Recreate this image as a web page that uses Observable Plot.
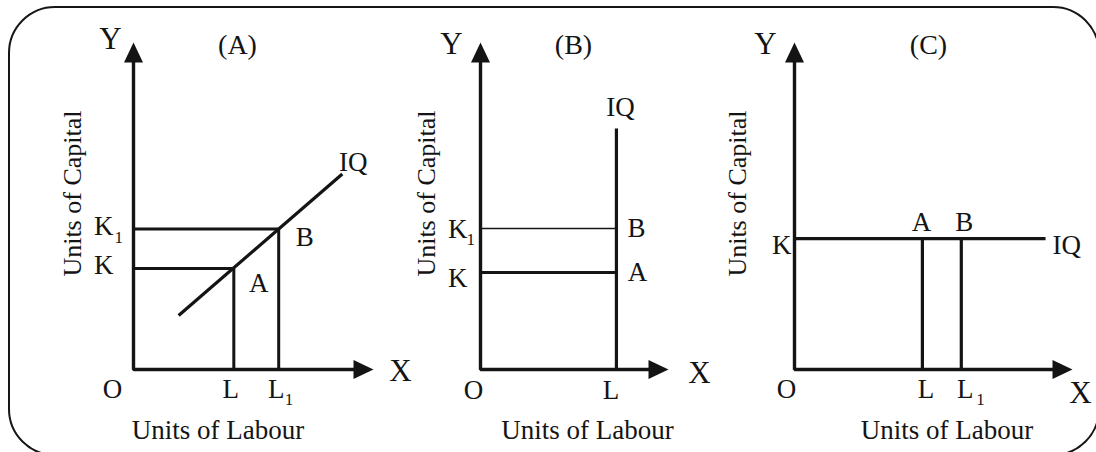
<!DOCTYPE html>
<html>
<head>
<meta charset="utf-8">
<script src="https://cdn.jsdelivr.net/npm/d3@7"></script>
<script src="https://cdn.jsdelivr.net/npm/@observablehq/plot@0.6"></script>
<style>
  html, body { margin: 0; padding: 0; background: #fff; overflow: hidden; }
  #wrap { position: relative; width: 1096px; height: 452px; overflow: hidden; }
  #frame { position: absolute; left: 8px; top: 6px; width: 1092px; height: 450px;
           box-sizing: border-box; border: 2.8px solid #161616; border-radius: 47px; }
  #wrap svg { position: absolute; left: 0; top: 0; }
</style>
</head>
<body>
<div id="wrap"><div id="frame"></div></div>
<script>
// ---------- data ----------
const panelTitles = ["(A)", "(B)", "(C)"];
const axisTitles = ["Units of Labour", "Units of Capital"];
const axisLetters = ["X", "Y", "O"];
const scaleDomain = [0, 10];

// Panel A : upward-sloping isoquant
const labourA = [4.18, 6.05];          // L, L1
const capitalA = [3.09, 4.30];         // K, K1
const isoquantA = [[1.88, 1.65], [8.70, 5.98]];

// Panel B : vertical isoquant
const labourB = [7.23];                // L
const capitalB = [2.97, 4.31];         // K, K1
const isoquantTopB = 7.37;

// Panel C : horizontal isoquant
const labourC = [4.60, 6.00];          // L, L1
const capitalC = [4.00];               // K
const isoquantEndC = 9.03;

// ---------- styling ----------
const INK = "#141414";
const SERIF = "'Liberation Serif', 'Times New Roman', serif";
const wrap = document.getElementById("wrap");

const arrowHead = {
  draw(ctx) { ctx.moveTo(0, 0); ctx.lineTo(9.5, 20); ctx.lineTo(-9.5, 20); ctx.closePath(); }
};

function lab(x, y, text, o = {}) {
  return Plot.text([{x, y, text}], {
    x: "x", y: "y", text: "text", fontFamily: SERIF, fontSize: 27, fill: INK, ...o
  });
}
function sub(x, y, o = {}) {
  return lab(x, y, "1", {fontSize: 17, textAnchor: "start", ...o});
}
function path(points, w = 3) {
  return Plot.line(points, {stroke: INK, strokeWidth: w, strokeLinejoin: "miter", strokeLinecap: "butt"});
}
function axes(o) {
  const [lo, hi] = scaleDomain;
  const end = hi - 0.5;
  return [
    path([[lo, end], [lo, lo], [end, lo]], 3.4),
    Plot.dot([[lo, hi]], {x: d => d[0], y: d => d[1], symbol: arrowHead, r: 5, fill: INK, stroke: "none"}),
    Plot.dot([[hi, lo]], {x: d => d[0], y: d => d[1], symbol: arrowHead, r: 5, fill: INK, stroke: "none", rotate: 90}),
    lab(lo, hi, axisLetters[1], {fontSize: 31, dx: o.ydx, dy: o.ydy}),
    lab(hi, lo, axisLetters[0], {fontSize: 31, dx: o.xdx, dy: o.xdy}),
    lab(lo, lo, axisLetters[2], {dx: o.odx, dy: o.ody}),
    lab(lo, lo, axisTitles[0], {dx: o.tdx, dy: 61}),
    lab(lo, (hi + lo) / 2 + 0.38, axisTitles[1], {fontSize: 26, rotate: -90, dx: o.cdx}),
    Plot.text([o.title], {frameAnchor: "top", text: d => d, lineAnchor: "middle",
      fontFamily: SERIF, fontSize: 28, fill: INK, dx: o.titledx, dy: 3})
  ];
}
function panel(ml, mr, marks) {
  const svg = Plot.plot({
    width: 1096, height: 452,
    marginLeft: ml, marginRight: mr, marginTop: 42, marginBottom: 83,
    x: {domain: scaleDomain, axis: null},
    y: {domain: scaleDomain, axis: null},
    style: {background: "transparent", overflow: "visible"},
    marks
  });
  wrap.appendChild(svg);
}

// ---------- Panel A ----------
{
  const [L, L1] = labourA, [K, K1] = capitalA;
  panel(133, 723, [
    path(isoquantA, 3.2),
    path([[0, K], [L, K], [L, 0]]),
    path([[0, K1], [L1, K1], [L1, 0]]),
    ...axes({ydx: -23, ydy: -3, xdx: 27, xdy: 1.5, odx: -21, ody: 20, tdx: 84.5, cdx: -60.5,
             title: panelTitles[0], titledx: -16}),
    lab(isoquantA[1][0], isoquantA[1][1], "IQ", {dx: 11, dy: -12}),
    lab(L, K, "A", {dx: 25, dy: 14.5}),
    lab(L1, K1, "B", {dx: 26, dy: 8}),
    lab(0, K, "K", {textAnchor: "end", dx: -20, dy: -3}),
    lab(0, K1, "K", {textAnchor: "end", dx: -20, dy: -3}),
    sub(0, K1, {dx: -19, dy: 8.5}),
    lab(L, 0, "L", {dx: -3, dy: 20}),
    lab(L1, 0, "L", {dx: -2.5, dy: 20}),
    sub(L1, 0, {dx: 6, dy: 30})
  ]);
}

// ---------- Panel B ----------
{
  const [L] = labourB, [K, K1] = capitalB;
  panel(480, 428, [
    path([[L, 0], [L, isoquantTopB]], 3.2),
    path([[0, K], [L, K]], 3),
    path([[0, K1], [L, K1]], 1.5),
    ...axes({ydx: -29, ydy: 2, xdx: 31, xdy: 3.5, odx: -7, ody: 21, tdx: 107, cdx: -54,
             title: panelTitles[1], titledx: -1}),
    lab(L, isoquantTopB, "IQ", {dx: 4, dy: -21}),
    lab(L, K, "A", {dx: 21, dy: 0}),
    lab(L, K1, "B", {dx: 20, dy: 0}),
    lab(0, K, "K", {textAnchor: "end", dx: -13, dy: 5.5}),
    lab(0, K1, "K", {textAnchor: "end", dx: -13, dy: 0.5}),
    sub(0, K1, {dx: -14, dy: 11}),
    lab(L, 0, "L", {dx: -5.5, dy: 21})
  ]);
}

// ---------- Panel C ----------
{
  const [L, L1] = labourC, [K] = capitalC;
  panel(794, 24, [
    path([[0, K], [isoquantEndC, K]], 3.2),
    path([[L, 0], [L, K]], 3.2),
    path([[L1, 0], [L1, K]], 3.2),
    ...axes({ydx: -29, ydy: 2, xdx: 8, xdy: 23.5, odx: -8, ody: 20, tdx: 152.5, cdx: -56.5,
             title: panelTitles[2], titledx: -5}),
    lab(isoquantEndC, K, "IQ", {textAnchor: "start", dx: 7, dy: 7}),
    lab(L, K, "A", {dx: -1, dy: -16.5}),
    lab(L1, K, "B", {dx: 3, dy: -16.5}),
    lab(0, K, "K", {textAnchor: "end", dx: -3, dy: 7}),
    lab(L, 0, "L", {dx: 3.5, dy: 20}),
    lab(L1, 0, "L", {dx: 4, dy: 20}),
    sub(L1, 0, {dx: 15, dy: 30})
  ]);
}
</script>
</body>
</html>
